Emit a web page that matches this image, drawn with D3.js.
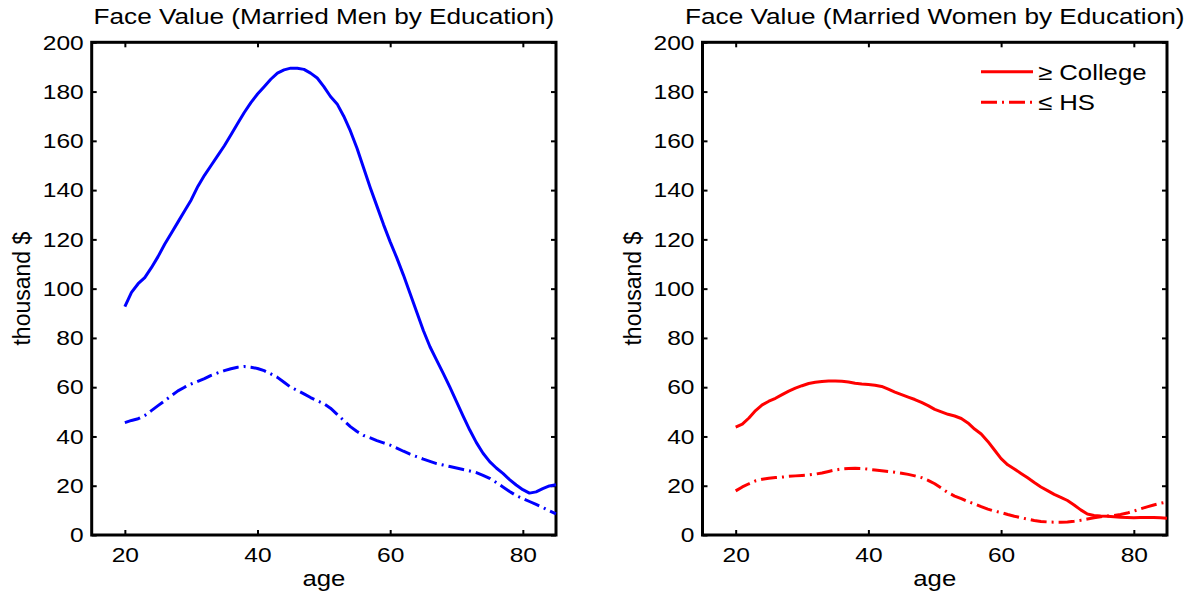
<!DOCTYPE html>
<meta charset="utf-8">

<script src="https://d3js.org/d3.v7.min.js"></script>

<style type="text/css">

body {
  margin: 0;
  background: #fff;
}

text {
  font-family: "Liberation Sans", Arial, Helvetica, sans-serif;
  fill: #000;
}

.axis text {
  font-size: 21px;
}

.axis line {
  stroke: #000;
  stroke-width: 2px;
}

.axis path {
  display: none;
}

.frame {
  fill: none;
  stroke: #000;
  stroke-width: 3px;
}

.curve {
  fill: none;
  stroke-width: 3px;
  stroke-linejoin: round;
}

/* matlab style dash-dot */
.dashdot {
  stroke-dasharray: 16 5 2 5;
}

</style>

<body>
</body>

<script>

// ages on the x axis (one point per year)
var ages = [20, 21, 22, 23, 24, 25, 26, 27, 28, 29,
            30, 31, 32, 33, 34, 35, 36, 37, 38, 39,
            40, 41, 42, 43, 44, 45, 46, 47, 48, 49,
            50, 51, 52, 53, 54, 55, 56, 57, 58, 59,
            60, 61, 62, 63, 64, 65, 66, 67, 68, 69,
            70, 71, 72, 73, 74, 75, 76, 77, 78, 79,
            80, 81, 82, 83, 84, 85];

// face value, thousand $
var menCollege = [92.7, 98.5, 102, 104.5, 108.5, 113, 118, 122.5, 127, 131.5,
                  136, 141.5, 146, 150, 154, 158, 162.5, 167, 171.5, 175.5,
                  179, 182, 185, 187.5, 188.8, 189.5, 189.5, 189, 187.5, 185.5,
                  182, 178, 175, 170, 164, 157, 149, 141, 133.5, 126,
                  119, 112.5, 105.5, 98, 90.5, 83, 76.4, 71, 65.6, 60,
                  54.1, 48.3, 42.6, 37.5, 33.2, 29.8, 27.2, 25, 22.5, 20.3,
                  18.4, 17, 17.5, 18.8, 19.9, 20.4];

var menHS = [45.6, 46.5, 47.2, 48.5, 50.5, 52.5, 54.5, 56.5, 58.5, 60,
             61.3, 62.4, 63.5, 64.8, 65.8, 66.7, 67.5, 68.1, 68.4, 68.1,
             67.6, 66.7, 65.4, 64, 62, 60, 58.7, 57.3, 55.8, 54.5,
             53.3, 51.5, 49, 46.5, 44, 42, 40.4, 39.4, 38.3, 37.4,
             36.5, 35.3, 34, 32.8, 31.8, 30.8, 29.9, 29, 28.4, 27.8,
             27.2, 26.6, 26, 25.3, 24.2, 23, 21.3, 19.5, 17.7, 16,
             14.8, 13.6, 12.4, 11.2, 9.8, 8.6];

var womenCollege = [43.8, 45, 47.5, 50.5, 52.8, 54.3, 55.5, 57, 58.4, 59.6,
                    60.6, 61.5, 62, 62.3, 62.5, 62.5, 62.4, 62.1, 61.6, 61.3,
                    61.1, 60.8, 60.3, 59.2, 58, 57, 56, 55, 53.8, 52.5,
                    51, 50, 49, 48.3, 47.3, 45.5, 43, 41, 38, 34.5,
                    31, 28.5, 26.8, 25, 23.2, 21.3, 19.5, 18, 16.5, 15.3,
                    14, 12.2, 10.2, 8.5, 7.9, 7.7, 7.6, 7.4, 7.2, 7.1,
                    7.0, 7.1, 7.1, 7.1, 7.0, 6.8];

var womenHS = [17.9, 19.5, 20.8, 22, 22.6, 23, 23.3, 23.5, 23.8, 24,
               24.2, 24.4, 24.7, 25.2, 25.8, 26.4, 26.8, 27, 27.1, 27,
               26.7, 26.4, 26.1, 25.8, 25.5, 25.1, 24.6, 24, 23.3, 22.2,
               20.8, 19, 17.2, 15.8, 14.8, 13.6, 12.6, 11.5, 10.5, 9.7,
               9.1, 8.3, 7.6, 7, 6.4, 5.9, 5.5, 5.3, 5.2, 5.2,
               5.3, 5.6, 6.0, 6.5, 7.0, 7.4, 7.7, 7.9, 8.3, 8.9,
               9.7, 10.6, 11.4, 12.2, 12.9, 13.4];

var xTicks = [20, 40, 60, 80];
var yTicks = [0, 20, 40, 60, 80, 100, 120, 140, 160, 180, 200];
var legendLabels = ['\u2265 College', '\u2264 HS'];

// the source figure is stretched sideways a little
var stretch = 1.17;

var width = 1188,
    height = 592;

var svg = d3.select('body').append('svg')
    .attr('width', width)
    .attr('height', height);

var yScale = d3.scaleLinear()
    .domain([0, 200])
    .range([535, 42.3]);

function drawPanel(left, right, title, college, hs, color, showLegend) {

  var xScale = d3.scaleLinear()
    .domain([15, 85])
    .range([left, right]);

  var g = svg.append('g');

  // ticks on all four sides, pointing in
  var bottom = g.append('g')
    .attr('class', 'axis')
    .attr('transform', 'translate(0,' + yScale(0) + ')')
    .call(d3.axisBottom(xScale).tickValues(xTicks).tickSizeInner(-5).tickSizeOuter(0).tickPadding(12));

  g.append('g')
    .attr('class', 'axis')
    .attr('transform', 'translate(0,' + yScale(200) + ')')
    .call(d3.axisTop(xScale).tickValues(xTicks).tickSizeInner(-5).tickSizeOuter(0).tickFormat(''));

  var leftAxis = g.append('g')
    .attr('class', 'axis')
    .attr('transform', 'translate(' + left + ',0)')
    .call(d3.axisLeft(yScale).tickValues(yTicks).tickSizeInner(-5).tickSizeOuter(0).tickPadding(8));

  g.append('g')
    .attr('class', 'axis')
    .attr('transform', 'translate(' + right + ',0)')
    .call(d3.axisRight(yScale).tickValues(yTicks).tickSizeInner(-5).tickSizeOuter(0).tickFormat(''));

  bottom.selectAll('text').attr('transform', 'scale(' + stretch + ',1)');
  leftAxis.selectAll('text')
    .attr('x', -8 / stretch)
    .attr('transform', 'scale(' + stretch + ',1)');

  // box
  g.append('rect')
    .attr('class', 'frame')
    .attr('x', left)
    .attr('y', yScale(200))
    .attr('width', right - left)
    .attr('height', yScale(0) - yScale(200));

  var cx = (left + right) / 2;

  g.append('text')
    .attr('transform', 'translate(' + cx + ',24) scale(1.19,1)')
    .attr('text-anchor', 'middle')
    .style('font-size', '22px')
    .text(title);

  g.append('text')
    .attr('transform', 'translate(' + cx + ',586) scale(' + stretch + ',1)')
    .attr('text-anchor', 'middle')
    .style('font-size', '22px')
    .text('age');

  g.append('text')
    .attr('transform', 'translate(' + (left - 62) + ',' + yScale(100) + ') rotate(-90)')
    .attr('text-anchor', 'middle')
    .style('font-size', '23px')
    .text('thousand $');

  var line = d3.line()
    .x(function(d) { return xScale(d.age); })
    .y(function(d) { return yScale(d.value); });

  var collegeData = ages.map(function(a, i) { return {age: a, value: college[i]}; });
  var hsData = ages.map(function(a, i) { return {age: a, value: hs[i]}; });

  g.append('path')
    .attr('class', 'curve')
    .style('stroke', color)
    .attr('d', line(collegeData));

  g.append('path')
    .attr('class', 'curve dashdot')
    .style('stroke', color)
    .attr('d', line(hsData));

  if (showLegend) {
    var legend = g.selectAll('.legendItem')
      .data(legendLabels)
      .enter().append('g')
      .attr('class', 'legendItem')
      .attr('transform', function(d, i) { return 'translate(' + (right - 186) + ',' + (yScale(200) + 29.5 + i * 30.5) + ')'; });

    legend.append('line')
      .attr('class', function(d, i) { return i == 0 ? 'curve' : 'curve dashdot'; })
      .style('stroke', color)
      .attr('x1', 0)
      .attr('x2', 52);

    legend.append('text')
      .attr('transform', 'translate(57,0) scale(' + stretch + ',1)')
      .attr('dy', '0.35em')
      .style('font-size', '22px')
      .text(function(d) { return d; });
  }
}

drawPanel(91.7, 556, 'Face Value (Married Men by Education)', menCollege, menHS, '#0000ff', false);
drawPanel(702.5, 1167, 'Face Value (Married Women by Education)', womenCollege, womenHS, '#ff0000', true);

</script>
